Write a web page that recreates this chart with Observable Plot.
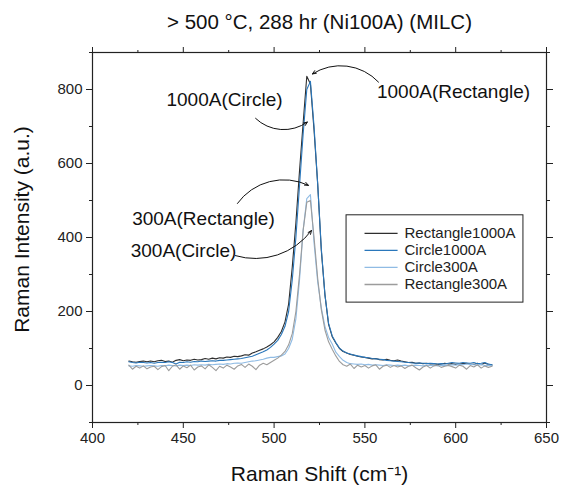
<!DOCTYPE html>
<html>
<head>
<meta charset="utf-8">
<script src="https://cdn.jsdelivr.net/npm/d3@7"></script>
<script src="https://cdn.jsdelivr.net/npm/@observablehq/plot@0.6"></script>
<style>
  html, body { margin: 0; padding: 0; background: #fff; }
  #chart svg { display: block; }
</style>
</head>
<body>
<div id="chart"></div>
<script>
// Raman shift grid (cm^-1)
const shift = d3.range(420, 621, 2);

// Series values (a.u.)
const rectangle1000A = [66,64,63,65,66,64,66,64,67,68,65,66,63,68,70,67,69,68,71,69,70,73,71,74,72,75,74,77,76,79,78,80,83,82,88,91,95,99,104,110,118,130,146,172,220,320,440,580,710,836,815,690,545,365,245,165,132,115,100,92,88,84,82,79,77,76,74,72,73,70,69,71,68,67,69,66,64,62,63,60,61,59,60,58,59,57,58,60,58,59,57,58,59,60,58,57,60,56,61,57,55];
const circle1000A = [64,62,61,63,62,61,62,60,62,63,62,64,62,58,63,62,64,63,65,64,66,65,66,67,66,68,68,69,70,71,72,73,75,77,79,83,87,91,96,103,112,122,138,160,200,285,400,540,680,800,822,700,545,370,245,168,134,116,101,93,88,85,82,80,78,76,75,73,72,71,70,68,67,66,65,64,63,62,61,60,61,60,59,60,59,58,59,58,60,62,61,60,62,61,60,62,59,60,62,58,56];
const circle300A = [53,52,54,53,52,53,54,53,52,54,53,55,54,53,55,54,55,54,56,55,56,55,57,56,57,58,57,59,58,60,61,60,62,64,66,67,69,71,74,76,76,78,80,85,100,125,180,285,420,505,516,385,280,210,160,130,112,90,78,68,62,59,58,57,58,56,57,55,56,55,54,56,55,54,55,54,55,53,54,55,54,53,55,54,55,53,54,55,54,56,55,57,56,58,57,56,55,57,54,55,53];
const rectangle300A = [55,44,52,47,53,45,50,52,43,51,54,40,52,56,44,53,48,55,42,50,53,45,56,49,40,52,47,55,50,44,53,57,49,58,52,43,55,60,56,62,68,74,82,92,110,140,200,300,420,495,500,400,290,205,150,118,98,80,65,56,52,58,46,55,50,54,47,53,56,44,52,55,49,54,50,53,46,52,55,48,42,50,54,47,53,55,49,52,54,51,47,55,52,44,54,50,56,47,53,49,52];

const seriesNames = ["Rectangle1000A", "Circle1000A", "Circle300A", "Rectangle300A"];
const seriesColors = ["#2e2e2e", "#2a77bb", "#8fbbe4", "#9c9c9c"];
const seriesValues = [rectangle1000A, circle1000A, circle300A, rectangle300A];

// Axis ticks
const xTicks = [400, 450, 500, 550, 600, 650];
const xMinor = [425, 475, 525, 575, 625];
const yTicks = [0, 200, 400, 600, 800];
const yMinor = [-100, 100, 300, 500, 700, 900];

// Annotations (label, text anchor point, arrow start, arrow end, bend)
const annLabels = ["1000A(Circle)", "1000A(Rectangle)", "300A(Rectangle)", "300A(Circle)"];
const annTextX = [472.7, 598.8, 461.1, 450.1];
const annTextY = [771, 793, 451, 365];
const annX1 = [489.8, 557.5, 479.8, 478.7];
const annY1 = [722, 820, 492, 351];
const annX2 = [518.3, 521.1, 518.9, 520.6];
const annY2 = [712, 842, 541, 419];
const annBend = [-40, -40, 40, -35];

const title = "> 500 °C, 288 hr (Ni100A) (MILC)";
const xLabel = "Raman Shift (cm⁻¹)";
const yLabel = "Raman Intensity (a.u.)";

// Build tidy tables
const rows = [];
seriesNames.forEach((name, i) => {
  shift.forEach((x, j) => rows.push({series: name, x, y: seriesValues[i][j]}));
});
const ann = annLabels.map((label, i) => ({
  label, tx: annTextX[i], ty: annTextY[i],
  x1: annX1[i], y1: annY1[i], x2: annX2[i], y2: annY2[i], bend: annBend[i]
}));

// Legend laid out in data units inside the frame
const legendRows = seriesNames.map((name, i) => ({
  name, color: seriesColors[i], y: 411 - i * 46
}));

const font = "Liberation Sans, Arial, Helvetica, sans-serif";

const chart = Plot.plot({
  width: 569,
  height: 487,
  marginLeft: 92,
  marginRight: 23,
  marginTop: 52,
  marginBottom: 65,
  style: {fontFamily: font, fontSize: "15px", color: "#222", background: "#fff"},
  x: {domain: [400, 650]},
  y: {domain: [-100, 900]},
  marks: [
    Plot.axisX(xTicks, {tickSize: 6, tickPadding: 4, fontSize: 15, label: null}),
    Plot.axisX(xMinor, {tickSize: 3, tickFormat: () => "", label: null}),
    Plot.axisX(xTicks, {anchor: "top", tickSize: 6, tickFormat: () => "", label: null}),
    Plot.axisX(xMinor, {anchor: "top", tickSize: 3, tickFormat: () => "", label: null}),
    Plot.axisY(yTicks, {tickSize: 6, tickPadding: 4, fontSize: 15, label: null}),
    Plot.axisY(yMinor, {tickSize: 3, tickFormat: () => "", label: null}),
    Plot.axisY(yTicks, {anchor: "right", tickSize: 6, tickFormat: () => "", label: null}),
    Plot.axisY(yMinor, {anchor: "right", tickSize: 3, tickFormat: () => "", label: null}),
    Plot.frame({stroke: "#222", strokeWidth: 1.2}),
    ...seriesNames.map((name, i) =>
      Plot.line(rows.filter(d => d.series === name), {x: "x", y: "y", stroke: seriesColors[i], strokeWidth: 1.1})
    ),
    // annotations
    Plot.text(ann, {x: "tx", y: "ty", text: "label", fontSize: 19, fill: "#111"}),
    ...ann.map(a => Plot.arrow([a], {x1: "x1", y1: "y1", x2: "x2", y2: "y2", bend: a.bend, stroke: "#111", strokeWidth: 1, headLength: 6, headAngle: 45})),
    // legend
    Plot.rect([{x1: 539.9, x2: 637.3, y1: 224, y2: 460}], {x1: "x1", x2: "x2", y1: "y1", y2: "y2", fill: "#fff", stroke: "#222", strokeWidth: 1}),
    Plot.link(legendRows, {x1: 549.8, x2: 568, y1: "y", y2: "y", stroke: "color", strokeWidth: 1.3}),
    Plot.text(legendRows, {x: 571.8, y: "y", text: "name", textAnchor: "start", fontSize: 15, fill: "#222"}),
    // titles
    Plot.text([title], {frameAnchor: "top", textAnchor: "middle", lineAnchor: "middle", dy: -30, fontSize: 20.5, fill: "#111"}),
    Plot.text([xLabel], {frameAnchor: "bottom", textAnchor: "middle", lineAnchor: "middle", dy: 52, fontSize: 21, fill: "#111"}),
    Plot.text([yLabel], {frameAnchor: "left", textAnchor: "middle", lineAnchor: "middle", dx: -70, dy: -8, rotate: -90, fontSize: 21, fill: "#111"})
  ]
});
document.getElementById("chart").appendChild(chart);
</script>
</body>
</html>
